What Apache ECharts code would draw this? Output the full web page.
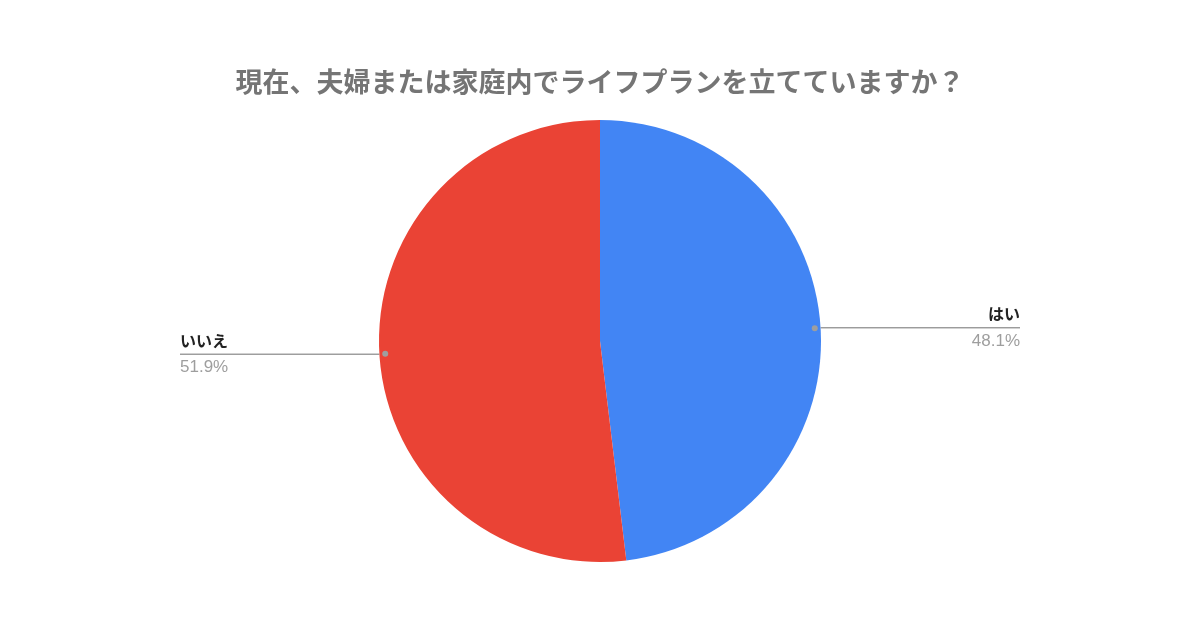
<!DOCTYPE html>
<html><head><meta charset="utf-8">
<script src="https://cdn.jsdelivr.net/npm/echarts@6/dist/echarts.min.js"></script>
<style>html,body{margin:0;padding:0;background:#fff}#c{width:1200px;height:628px}</style>
</head><body><div id="c"></div>
<script>
const titleText = '現在、夫婦または家庭内でライフプランを立てていますか？';
const categories = ['はい', 'いいえ'];
const values = [48.1, 51.9];
const colors = ['#4285F4', '#EA4335'];

const chart = echarts.init(document.getElementById('c'));
const data = categories.map((n, i) => ({ name: n, value: values[i], itemStyle: { color: colors[i] } }));
const center = [600, 341];
const R = 221;

chart.setOption({
  backgroundColor: '#ffffff',
  animation: false,
  title: {
    text: titleText, left: 'center', top: 63,
    textStyle: { fontFamily: 'Noto Sans CJK JP', fontSize: 27, fontWeight: 'bold', color: '#757575' }
  },
  series: [
    {
      type: 'pie', radius: R, center: center, startAngle: 90, clockwise: true,
      data: data,
      itemStyle: { borderWidth: 0 },
      label: {
        show: true, alignTo: 'edge', edgeDistance: 180,
        formatter: p => '{n|' + p.name + '}\n{p|' + p.value.toFixed(1) + '%}',
        rich: {
          n: { fontFamily: 'Noto Sans CJK JP', fontSize: 16, fontWeight: 'bold', color: '#222222', lineHeight: 27 },
          p: { fontFamily: 'Liberation Sans', fontSize: 17, color: '#9e9e9e', lineHeight: 27 }
        }
      },
      labelLine: { show: true, length: 0, length2: 10, lineStyle: { color: '#6f6f6f', width: 1 } },
      labelLayout: function (params) {
        const pts = params.labelLinePoints;
        if (!pts) return {};
        const r = params.labelRect;
        const np = pts.map(p => p.slice());
        const last = np[np.length - 1];
        if (last[0] > center[0]) last[0] = r.x + r.width; else last[0] = r.x;
        return { labelLinePoints: np };
      }
    },
    {
      type: 'pie', radius: [R * 0.92, R], center: center, startAngle: 90, clockwise: true,
      silent: true, z: 5,
      data: categories.map((n, i) => ({ name: n, value: values[i] })),
      itemStyle: { color: 'rgba(0,0,0,0)' },
      label: {
        show: true, position: 'inside', formatter: '{d|}',
        rich: { d: { width: 6, height: 6, borderRadius: 3, backgroundColor: '#9e9e9e' } }
      },
      labelLine: { show: false }
    }
  ]
});
</script></body></html>
